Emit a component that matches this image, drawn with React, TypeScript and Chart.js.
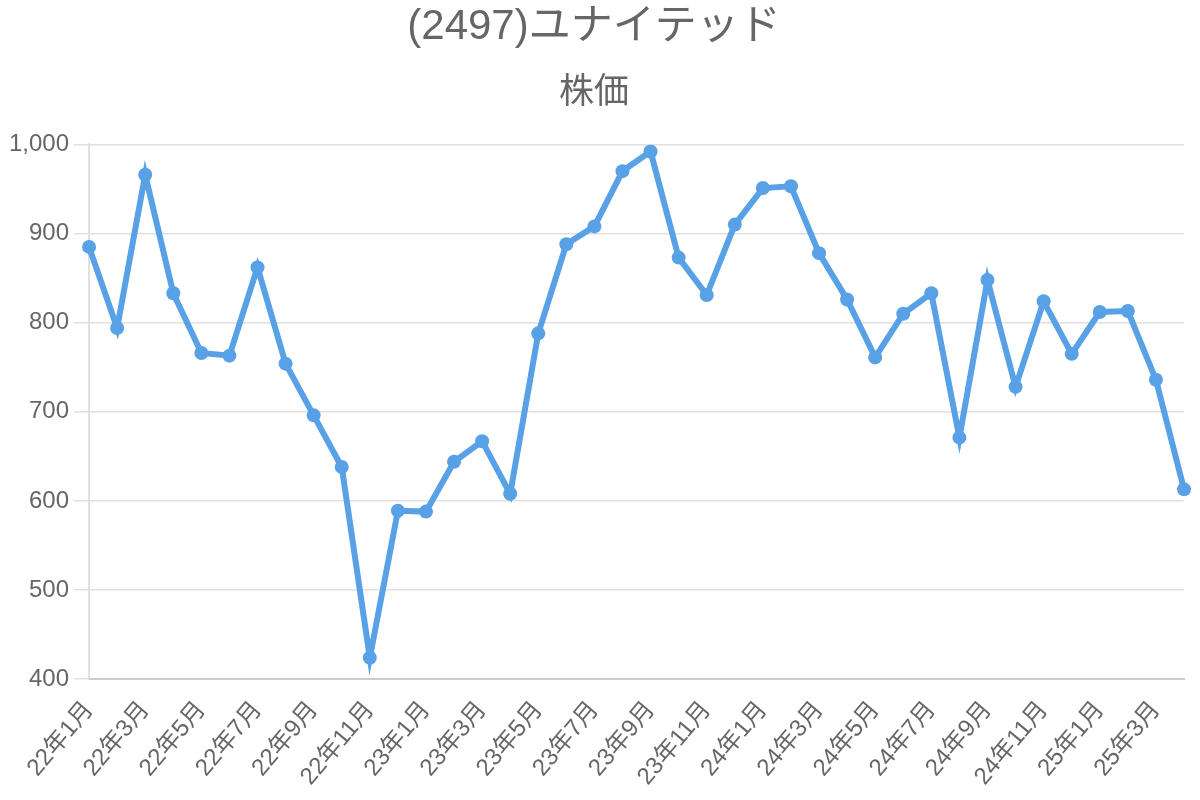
import React, { useEffect, useRef } from 'react';
import { Chart, registerables } from 'chart.js';

Chart.register(...registerables);

const FONT = "'Liberation Sans', 'Noto Sans CJK JP', sans-serif";

// months 22年1月 .. 25年4月
const labels: string[] = [];
for (const y of [22, 23, 24, 25]) {
  for (let m = 1; m <= 12; m++) {
    if (y === 25 && m > 4) break;
    labels.push(`${y}年${m}月`);
  }
}

const prices = [
  885, 794, 966, 833, 766, 763, 862, 754, 696, 638, 424, 589,
  588, 644, 667, 608, 788, 888, 908, 970, 992, 873, 831, 910,
  951, 953, 878, 826, 761, 810, 833, 671, 848, 728, 824, 765,
  812, 813, 736, 613,
];

const LINE_COLOR = '#58a1e6';

const App: React.FC = () => {
  const chartRef = useRef<HTMLCanvasElement>(null);
  const chartInstance = useRef<Chart | null>(null);

  useEffect(() => {
    if (!chartRef.current) return;
    const ctx = chartRef.current.getContext('2d');
    if (!ctx) return;

    chartInstance.current = new Chart(ctx, {
      type: 'line',
      data: {
        labels,
        datasets: [
          {
            label: '株価',
            data: prices,
            borderColor: LINE_COLOR,
            backgroundColor: LINE_COLOR,
            borderWidth: 6,
            pointRadius: 7,
            pointBorderWidth: 0,
            pointBackgroundColor: LINE_COLOR,
            tension: 0,
            fill: false,
          },
        ],
      },
      options: {
        animation: false,
        responsive: true,
        maintainAspectRatio: false,
        layout: { padding: { left: 4, right: 16, bottom: 0 } },
        plugins: {
          legend: { display: false },
          title: {
            display: true,
            text: '(2497)ユナイテッド',
            color: '#666',
            font: { family: FONT, size: 42, weight: 'normal' },
            padding: { top: 2, bottom: 10 },
          },
          subtitle: {
            display: true,
            text: '株価',
            color: '#666',
            font: { family: FONT, size: 35, weight: 'normal' },
            padding: { top: 10, bottom: 30 },
          },
          tooltip: { enabled: false },
        },
        scales: {
          x: {
            offset: false,
            ticks: {
              color: '#666',
              font: { family: FONT, size: 24 },
              maxRotation: 50,
              minRotation: 50,
              autoSkip: true,
              padding: 9,
            },
            grid: { display: false, color: '#ccc' },
            border: { color: '#ccc', width: 2 },
          },
          y: {
            min: 400,
            max: 1000,
            ticks: {
              stepSize: 100,
              color: '#666',
              font: { family: FONT, size: 24 },
              padding: 5,
              callback: (v) => Number(v).toLocaleString('en-US'),
            },
            grid: { color: '#e0e0e0', lineWidth: 1.5, tickLength: 15 },
            border: { color: '#e0e0e0', width: 2 },
          },
        },
      },
    });

    return () => {
      if (chartInstance.current) {
        chartInstance.current.destroy();
        chartInstance.current = null;
      }
    };
  }, []);

  return (
    <div style={{ position: 'fixed', left: 0, top: 0, width: 1200, height: 800, background: '#fff' }}>
      <canvas ref={chartRef}></canvas>
    </div>
  );
};

export default App;
